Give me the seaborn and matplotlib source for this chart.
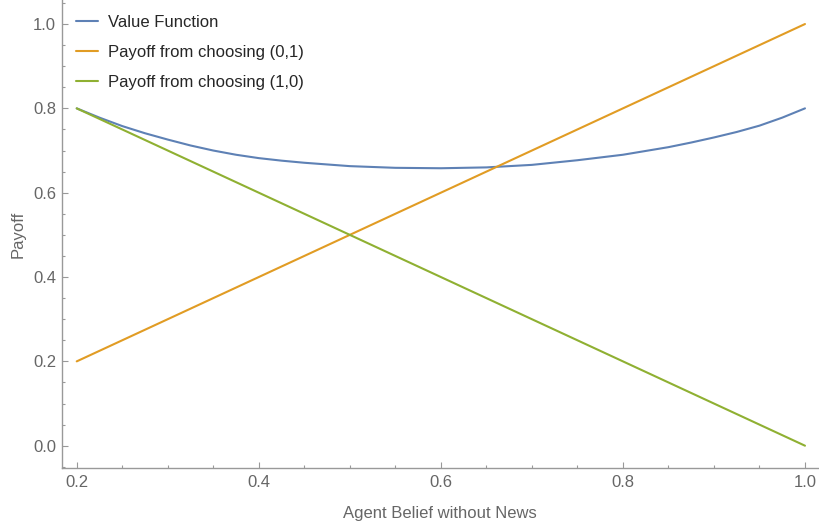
import matplotlib
matplotlib.use("Agg")
import matplotlib.pyplot as plt
from matplotlib.ticker import MultipleLocator
import seaborn as sns

# values
belief = [0.2, 0.225, 0.25, 0.275, 0.3, 0.325, 0.35, 0.375, 0.4, 0.425, 0.45,
          0.5, 0.55, 0.6, 0.65, 0.7, 0.75, 0.8, 0.85, 0.875, 0.9, 0.925,
          0.95, 0.975, 1.0]
value_fn = [0.800, 0.778, 0.758, 0.741, 0.726, 0.712, 0.700, 0.690, 0.682,
            0.676, 0.671, 0.663, 0.659, 0.658, 0.660, 0.666, 0.677, 0.690,
            0.708, 0.719, 0.731, 0.744, 0.759, 0.778, 0.800]

line_x = [0.2, 1.0]
payoff_01 = [0.2, 1.0]
payoff_10 = [0.8, 0.0]

labels = ["Value Function", "Payoff from choosing (0,1)", "Payoff from choosing (1,0)"]
colors = ["#5E81B5", "#E19C24", "#8FB032"]

sns.set_style("white")
plt.rcParams['font.family'] = ['Liberation Sans', 'DejaVu Sans']

fig = plt.figure(figsize=(8.2, 5.27), dpi=100)
ax = fig.add_axes([61.7 / 820, 58.7 / 527, 756.3 / 820, 468.3 / 527])

sns.lineplot(x=belief, y=value_fn, color=colors[0], linewidth=1.5, label=labels[0], ax=ax)
sns.lineplot(x=line_x, y=payoff_01, color=colors[1], linewidth=1.5, label=labels[1], ax=ax)
sns.lineplot(x=line_x, y=payoff_10, color=colors[2], linewidth=1.5, label=labels[2], ax=ax)

ax.set_xlim(0.1835, 1.0143)
ax.set_ylim(-0.0536, 1.057)

ax.xaxis.set_major_locator(MultipleLocator(0.2))
ax.xaxis.set_minor_locator(MultipleLocator(0.05))
ax.yaxis.set_major_locator(MultipleLocator(0.2))
ax.yaxis.set_minor_locator(MultipleLocator(0.05))
ax.xaxis.set_major_formatter(lambda v, p: f"{v:.1f}")
ax.yaxis.set_major_formatter(lambda v, p: f"{v:.1f}")

for s in ["top", "right"]:
    ax.spines[s].set_visible(False)
for s in ["left", "bottom"]:
    ax.spines[s].set_color("#999999")
    ax.spines[s].set_linewidth(1.0)

ax.tick_params(which="both", direction="in", color="#999999", width=0.8,
               labelcolor="#666666", labelsize=12, bottom=True, left=True)
ax.tick_params(which="major", length=4)
ax.tick_params(which="minor", length=2.5)
ax.tick_params(axis="x", which="major", pad=5)
ax.tick_params(axis="y", which="major", pad=4)

ax.set_xlabel("Agent Belief without News", fontsize=12, color="#666666")
ax.set_ylabel("Payoff", fontsize=12, color="#666666")
ax.xaxis.set_label_coords(0.5, -0.08)
ax.yaxis.set_label_coords(-0.048, 0.5)

ax.legend(loc="upper left", bbox_to_anchor=(0.0189, 0.969), frameon=False,
          fontsize=12, handlelength=1.35, handletextpad=0.6, labelspacing=0.9,
          borderpad=0, borderaxespad=0)

fig.savefig("out.png", dpi=100)
